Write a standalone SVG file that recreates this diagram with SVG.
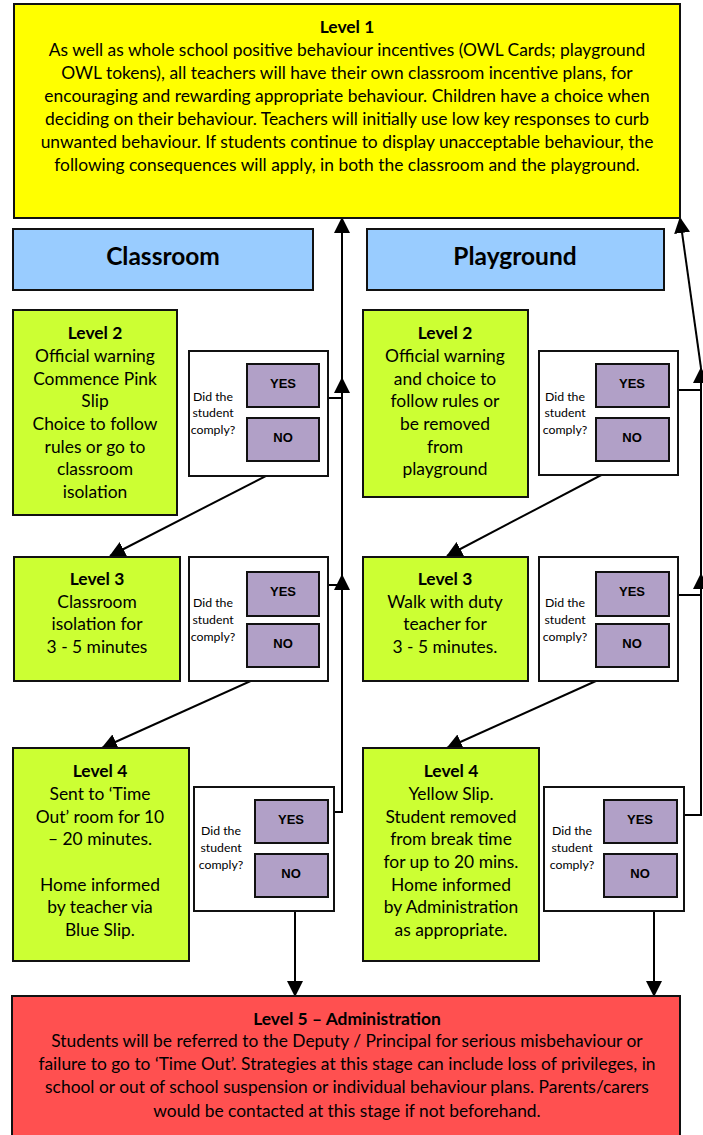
<svg xmlns="http://www.w3.org/2000/svg" width="703" height="1135" viewBox="0 0 703 1135">
<style>
.box{stroke:#111;stroke-width:2}
.l1{fill:#FFFF00}
.hd{fill:#99CCFF}
.gr{fill:#CCFF33}
.dec{fill:#fff}
.btn{fill:#B1A0C7}
.l5{fill:#FF5050}
.t{font-family:Lato,"Noto Sans",sans-serif;font-size:17.4px;fill:#000;text-anchor:middle}
.b{font-weight:bold}
.h{font-family:Lato,"Noto Sans",sans-serif;font-size:24.5px;font-weight:bold;text-anchor:middle}
.s{font-family:Lato,"Noto Sans",sans-serif;font-size:12.3px;text-anchor:middle}
.yn{font-family:"Liberation Sans",Arial,sans-serif;font-size:13px;font-weight:bold;text-anchor:middle}
.c{fill:none;stroke:#000;stroke-width:2}
</style>
<defs>
<marker id="ah" markerUnits="userSpaceOnUse" markerWidth="16" markerHeight="16" viewBox="0 0 16 16" refX="15" refY="8" orient="auto">
<path d="M0,0 L16,8 L0,16 Z" fill="#000"/>
</marker>
</defs>

<g id="connectors">
<path class="c" d="M319,398 H342"/>
<path class="c" d="M319,585 H342"/>
<path class="c" d="M328,812 H342 V575" marker-end="url(#ah)"/>
<path class="c" d="M342,575 V378" marker-end="url(#ah)"/>
<path class="c" d="M342,378 V218" marker-end="url(#ah)"/>
<path class="c" d="M669,390 H701"/>
<path class="c" d="M669,595 H701"/>
<path class="c" d="M677,815 H701 V574" marker-end="url(#ah)"/>
<path class="c" d="M701,574 V368" marker-end="url(#ah)"/>
<path class="c" d="M701,368 L680,218" marker-end="url(#ah)"/>
<path class="c" d="M295,461 L110,556" marker-end="url(#ah)"/>
<path class="c" d="M282,667 L102,748" marker-end="url(#ah)"/>
<path class="c" d="M295,897 V996" marker-end="url(#ah)"/>
<path class="c" d="M628,461 L447,556" marker-end="url(#ah)"/>
<path class="c" d="M627,667 L447,748" marker-end="url(#ah)"/>
<path class="c" d="M654,897 V996" marker-end="url(#ah)"/>
</g>

<g id="level1">
<rect class="box l1" x="14" y="4" width="666" height="214"/>
<text class="t b" x="347" y="33">Level 1</text>
<text class="t" x="347" y="56">As well as whole school positive behaviour incentives (OWL Cards; playground</text>
<text class="t" x="347" y="79">OWL tokens), all teachers will have their own classroom incentive plans, for</text>
<text class="t" x="347" y="102">encouraging and rewarding appropriate behaviour. Children have a choice when</text>
<text class="t" x="347" y="125">deciding on their behaviour. Teachers will initially use low key responses to curb</text>
<text class="t" x="347" y="148">unwanted behaviour. If students continue to display unacceptable behaviour, the</text>
<text class="t" x="347" y="171">following consequences will apply, in both the classroom and the playground.</text>
</g>

<g id="classroom-header">
<rect class="box hd" x="13" y="229" width="300" height="61"/>
<text class="h" x="163" y="265">Classroom</text>
</g>
<g id="playground-header">
<rect class="box hd" x="367" y="229" width="297" height="61"/>
<text class="h" x="515" y="265">Playground</text>
</g>

<g id="c-level2">
<rect class="box gr" x="13" y="310" width="164" height="205"/>
<text class="t b" x="95" y="339">Level 2</text>
<text class="t" x="95" y="362">Official warning</text>
<text class="t" x="95" y="385">Commence Pink</text>
<text class="t" x="95" y="407">Slip</text>
<text class="t" x="95" y="430">Choice to follow</text>
<text class="t" x="95" y="453">rules or go to</text>
<text class="t" x="95" y="475">classroom</text>
<text class="t" x="95" y="498">isolation</text>
</g>
<g id="c-dec2">
<rect class="box dec" x="189" y="351" width="139" height="125"/>
<text class="s" x="213" y="401">Did the</text>
<text class="s" x="213" y="417">student</text>
<text class="s" x="213" y="434">comply?</text>
<rect class="box btn" x="247" y="364" width="72" height="43"/>
<text class="yn" x="283" y="388">YES</text>
<rect class="box btn" x="247" y="418" width="72" height="43"/>
<text class="yn" x="283" y="442">NO</text>
</g>

<g id="p-level2">
<rect class="box gr" x="363" y="310" width="165" height="187"/>
<text class="t b" x="445" y="339">Level 2</text>
<text class="t" x="445" y="362">Official warning</text>
<text class="t" x="445" y="385">and choice to</text>
<text class="t" x="445" y="407">follow rules or</text>
<text class="t" x="445" y="430">be removed</text>
<text class="t" x="445" y="453">from</text>
<text class="t" x="445" y="475">playground</text>
</g>
<g id="p-dec2">
<rect class="box dec" x="539" y="351" width="139" height="124"/>
<text class="s" x="565" y="401">Did the</text>
<text class="s" x="565" y="417">student</text>
<text class="s" x="565" y="434">comply?</text>
<rect class="box btn" x="596" y="364" width="73" height="43"/>
<text class="yn" x="632" y="388">YES</text>
<rect class="box btn" x="596" y="418" width="73" height="43"/>
<text class="yn" x="632" y="442">NO</text>
</g>

<g id="c-level3">
<rect class="box gr" x="14" y="557" width="166" height="124"/>
<text class="t b" x="97" y="585">Level 3</text>
<text class="t" x="97" y="608">Classroom</text>
<text class="t" x="97" y="630">isolation for</text>
<text class="t" x="97" y="653">3 - 5 minutes</text>
</g>
<g id="c-dec3">
<rect class="box dec" x="189" y="557" width="139" height="124"/>
<text class="s" x="213" y="607">Did the</text>
<text class="s" x="213" y="624">student</text>
<text class="s" x="213" y="641">comply?</text>
<rect class="box btn" x="247" y="572" width="72" height="44"/>
<text class="yn" x="283" y="596">YES</text>
<rect class="box btn" x="247" y="624" width="72" height="43"/>
<text class="yn" x="283" y="648">NO</text>
</g>

<g id="p-level3">
<rect class="box gr" x="363" y="557" width="165" height="124"/>
<text class="t b" x="445" y="585">Level 3</text>
<text class="t" x="445" y="608">Walk with duty</text>
<text class="t" x="445" y="630">teacher for</text>
<text class="t" x="445" y="653">3 - 5 minutes.</text>
</g>
<g id="p-dec3">
<rect class="box dec" x="539" y="557" width="139" height="124"/>
<text class="s" x="565" y="607">Did the</text>
<text class="s" x="565" y="624">student</text>
<text class="s" x="565" y="641">comply?</text>
<rect class="box btn" x="596" y="572" width="73" height="44"/>
<text class="yn" x="632" y="596">YES</text>
<rect class="box btn" x="596" y="624" width="73" height="43"/>
<text class="yn" x="632" y="648">NO</text>
</g>

<g id="c-level4">
<rect class="box gr" x="13" y="748" width="176" height="213"/>
<text class="t b" x="100" y="777">Level 4</text>
<text class="t" x="100" y="800">Sent to ‘Time</text>
<text class="t" x="100" y="823">Out’ room for 10</text>
<text class="t" x="100" y="845">– 20 minutes.</text>
<text class="t" x="100" y="891">Home informed</text>
<text class="t" x="100" y="913">by teacher via</text>
<text class="t" x="100" y="936">Blue Slip.</text>
</g>
<g id="c-dec4">
<rect class="box dec" x="194" y="787" width="140" height="124"/>
<text class="s" x="221" y="835">Did the</text>
<text class="s" x="221" y="852">student</text>
<text class="s" x="221" y="869">comply?</text>
<rect class="box btn" x="255" y="800" width="73" height="43"/>
<text class="yn" x="291" y="824">YES</text>
<rect class="box btn" x="255" y="854" width="73" height="43"/>
<text class="yn" x="291" y="878">NO</text>
</g>

<g id="p-level4">
<rect class="box gr" x="363" y="748" width="176" height="213"/>
<text class="t b" x="451" y="777">Level 4</text>
<text class="t" x="451" y="800">Yellow Slip.</text>
<text class="t" x="451" y="823">Student removed</text>
<text class="t" x="451" y="845">from break time</text>
<text class="t" x="451" y="868">for up to 20 mins.</text>
<text class="t" x="451" y="891">Home informed</text>
<text class="t" x="451" y="913">by Administration</text>
<text class="t" x="451" y="936">as appropriate.</text>
</g>
<g id="p-dec4">
<rect class="box dec" x="544" y="787" width="140" height="124"/>
<text class="s" x="572" y="835">Did the</text>
<text class="s" x="572" y="852">student</text>
<text class="s" x="572" y="869">comply?</text>
<rect class="box btn" x="604" y="800" width="73" height="43"/>
<text class="yn" x="640" y="824">YES</text>
<rect class="box btn" x="604" y="854" width="73" height="43"/>
<text class="yn" x="640" y="878">NO</text>
</g>

<g id="level5">
<rect class="box l5" x="12" y="996" width="668" height="145"/>
<text class="t b" x="347" y="1025">Level 5 – Administration</text>
<text class="t" x="347" y="1047">Students will be referred to the Deputy / Principal for serious misbehaviour or</text>
<text class="t" x="347" y="1070">failure to go to ‘Time Out’. Strategies at this stage can include loss of privileges, in</text>
<text class="t" x="347" y="1093">school or out of school suspension or individual behaviour plans. Parents/carers</text>
<text class="t" x="347" y="1117">would be contacted at this stage if not beforehand.</text>
</g>
</svg>
